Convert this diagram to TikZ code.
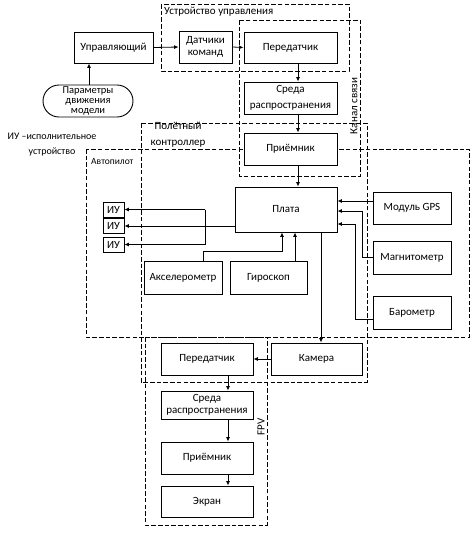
\documentclass[tikz,border=0pt]{standalone}
\usepackage{fontspec}
\setmainfont{Carlito}
\usetikzlibrary{arrows.meta}
\begin{document}
\begin{tikzpicture}[x=1pt,y=-1pt,
  box/.style={draw,fill=white,line width=0.9pt,align=center,inner sep=1pt,font=\fontsize{11}{12.5}\selectfont},
  grp/.style={draw,dashed,dash pattern=on 4.5pt off 2.2pt,line width=0.9pt},
  lbl/.style={inner sep=0pt,font=\fontsize{11}{12.5}\selectfont},
  arr/.style={line width=0.8pt,-{Latex[length=4.5pt,width=4pt]}},
  ln/.style={line width=0.8pt}]
\useasboundingbox (0,0) rectangle (475,536);
% groups
\draw[grp] (161,4) rectangle (349,71);
\draw[grp] (239,20) rectangle (360,176);
\draw[grp] (141,123) rectangle (367,382);
\draw[grp] (86,149) rectangle (469,337);
\draw[grp] (145,337) rectangle (267,525);
% group labels
\node[lbl,anchor=west] (lud) at (164,12) {Устройство управления};
\node[lbl,rotate=90] (lks) at (354,106) {Канал связи};
\node[lbl,align=center,font=\fontsize{11}{16}\selectfont] (lpk) at (178,135) {Полётный\\контроллер};
\node[lbl,anchor=west,font=\fontsize{9.5}{11}\selectfont] (lap) at (91,161) {Автопилот};
\node[lbl,rotate=90] (lfpv) at (261,427) {FPV};
\node[lbl,align=center,font=\fontsize{10}{15}\selectfont] (liu) at (52,145) {ИУ –исполнительное\\устройство};
% nodes
\node[box,minimum width=79pt,minimum height=31pt] (upr) at (113.5,47.5) {Управляющий};
\node[box,minimum width=53pt,minimum height=32pt] (dat) at (205.5,47) {Датчики\\команд};
\node[box,minimum width=93pt,minimum height=31pt] (per1) at (290.5,47.5) {Передатчик};
\node[box,minimum width=93pt,minimum height=32pt,font=\fontsize{11}{16}\selectfont] (sred1) at (290.5,98) {Среда\\распространения};
\node[box,minimum width=93pt,minimum height=32pt] (prm1) at (290.5,149) {Приёмник};
\node[box,rounded corners=16pt,minimum width=90pt,minimum height=32pt,inner sep=0pt,font=\fontsize{10.5}{9.6}\selectfont] (par) at (88,101) {Параметры\\движения\\модели};
\node[box,minimum width=102pt,minimum height=45pt] (plata) at (286,209.5) {Плата};
\node[box,minimum width=78pt,minimum height=32pt] (gps) at (412,208) {Модуль GPS};
\node[box,minimum width=78pt,minimum height=33pt] (mag) at (412,257.5) {Магнитометр};
\node[box,minimum width=78pt,minimum height=33pt] (bar) at (412,312.5) {Барометр};
\node[box,minimum width=78pt,minimum height=33pt] (acc) at (183,277.5) {Акселерометр};
\node[box,minimum width=77pt,minimum height=33pt] (gyr) at (268.5,277.5) {Гироскоп};
\node[box,minimum width=21pt,minimum height=15pt] (iu1) at (113.5,209.5) {ИУ};
\node[box,minimum width=21pt,minimum height=15pt] (iu2) at (113.5,226) {ИУ};
\node[box,minimum width=21pt,minimum height=15pt] (iu3) at (113.5,244.5) {ИУ};
\node[box,minimum width=92pt,minimum height=32pt] (per2) at (207,359) {Передатчик};
\node[box,minimum width=91pt,minimum height=32pt] (cam) at (316.5,359) {Камера};
\node[box,minimum width=92pt,minimum height=28pt] (sred2) at (207,405) {Среда\\распространения};
\node[box,minimum width=92pt,minimum height=32pt] (prm2) at (207,458) {Приёмник};
\node[box,minimum width=92pt,minimum height=31pt] (scr) at (207,501.5) {Экран};
% helper coordinates
\coordinate (xp) at (89,0);
\coordinate (xa) at (298,0);
\coordinate (xb) at (228,0);
\coordinate (xbus) at (205,0);
\coordinate (xacc) at (203,0);
\coordinate (yacc) at (0,251);
\coordinate (xacc2) at (282,0);
\coordinate (xgyr) at (295,0);
\coordinate (ygps) at (0,201);
\coordinate (xmag) at (362,0);
\coordinate (ymag) at (0,211);
\coordinate (xbar) at (355,0);
\coordinate (ybar) at (0,224);
\coordinate (ybar2) at (0,319);
\coordinate (xcam) at (321,0);
% connectors
\draw[arr] (par.north -| xp) -- (upr.south -| xp);
\draw[arr] (upr.east) -- (dat.west);
\draw[arr] (dat.east) -- (per1.west);
\draw[arr] (per1.south -| xa) -- (sred1.north -| xa);
\draw[arr] (sred1.south -| xa) -- (prm1.north -| xa);
\draw[arr] (prm1.south -| xa) -- (plata.north -| xa);
\draw[arr] (plata.west |- iu2) -- (iu2.east);
\draw[ln] (iu1 -| xbus) -- (iu3 -| xbus);
\draw[arr] (iu1 -| xbus) -- (iu1.east);
\draw[arr] (iu3 -| xbus) -- (iu3.east);
\draw[arr] (acc.north -| xacc) -- (yacc -| xacc) -- (yacc -| xacc2) -- (plata.south -| xacc2);
\draw[arr] (gyr.north -| xgyr) -- (plata.south -| xgyr);
\draw[arr] (gps.west |- ygps) -- (plata.east |- ygps);
\draw[arr] (mag.west) -- (mag.west -| xmag) -- (ymag -| xmag) -- (plata.east |- ymag);
\draw[arr] (bar.west |- ybar2) -- (ybar2 -| xbar) -- (ybar -| xbar) -- (plata.east |- ybar);
\draw[arr] (plata.south -| xcam) -- (cam.north -| xcam);
\draw[arr] (cam.west) -- (per2.east);
\draw[arr] (per2.south -| xb) -- (sred2.north -| xb);
\draw[arr] (sred2.south -| xb) -- (prm2.north -| xb);
\draw[arr] (prm2.south -| xb) -- (scr.north -| xb);
\end{tikzpicture}
\end{document}
